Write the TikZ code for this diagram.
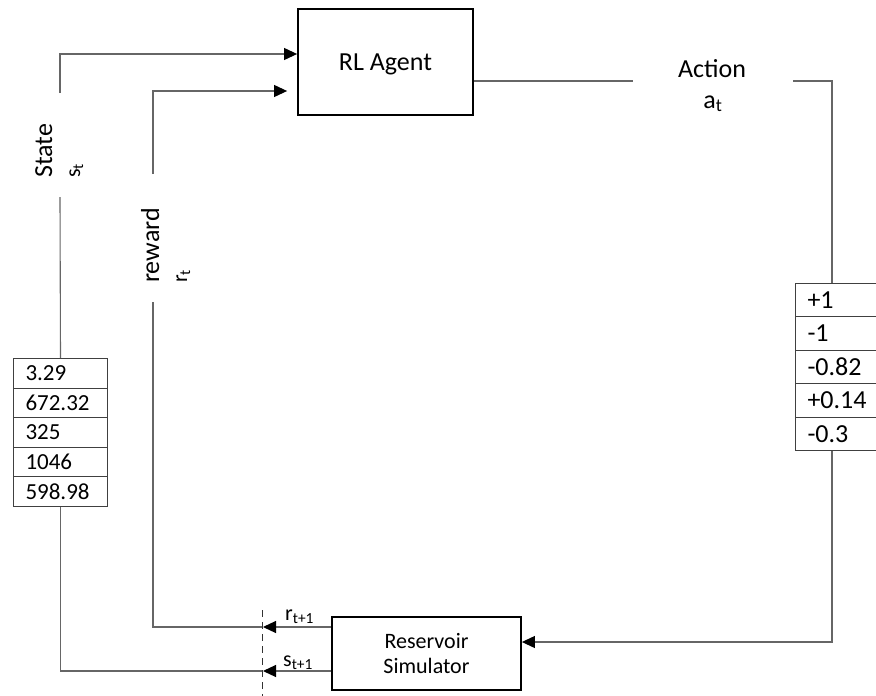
\documentclass[tikz,border=0pt]{standalone}
\usepackage{fontspec}
\setmainfont{Carlito}
\usetikzlibrary{arrows.meta,positioning}

\tikzset{
  blockbox/.style={draw=black,line width=1.8pt,inner sep=0pt},
  celltab/.style={draw=black!75,line width=1pt,anchor=north west,inner xsep=12pt,inner ysep=0pt,text width=70pt,align=left},
  wire/.style={draw=black!60,line width=1.1pt},
  tip/.style={-{Triangle[length=13pt,width=12pt,color=black]}},
  biglbl/.style={inner sep=0pt,font=\fontsize{26}{31}\selectfont},
  sublbl/.style={inner sep=0pt,font=\fontsize{22}{26}\selectfont},
}

\begin{document}
\begin{tikzpicture}[x=1pt,y=-1pt]
  \useasboundingbox (0,0) rectangle (876,696);

  \node[blockbox,minimum width=175pt,minimum height=106pt,text depth=0pt,font=\fontsize{26}{31}\selectfont] (agent) at (385.5,62) {RL Agent};
  \node[blockbox,minimum width=189pt,minimum height=73pt,align=center,font=\fontsize{22}{25}\selectfont] (res) at (426.5,653.5) {Reservoir\\Simulator};

  \foreach \val [count=\i] in {3.29,672.32,325,1046,598.98}
    \node[celltab,minimum height=29.6pt,font=\fontsize{23}{27}\selectfont] (st\i) at (13,{358+(\i-1)*29.6}) {\val};
  \foreach \val [count=\i] in {+1,-1,-0.82,+0.14,-0.3}
    \node[celltab,minimum height=33.4pt,font=\fontsize{26}{30}\selectfont] (act\i) at (795,{283+(\i-1)*33.4}) {\val};

  \node[biglbl,rotate=90,anchor=base west] (statelbl) at (52,178) {State};
  \node[sublbl,rotate=90,anchor=base west] (statesub) at (80,178) {s\textsubscript{t}};
  \node[biglbl,rotate=90,anchor=base west] (rewlbl) at (159,283) {reward};
  \node[sublbl,rotate=90,anchor=base west] (rewsub) at (187,283) {r\textsubscript{t}};
  \node[biglbl,anchor=base] (actlbl) at (712,77) {Action};
  \node[biglbl,anchor=base] (actsub) at (713,108) {a\textsubscript{t}};
  \node[sublbl,anchor=base west] (rnext) at (285,620) {r\textsubscript{t+1}};
  \node[sublbl,anchor=base west] (snext) at (283,666) {s\textsubscript{t+1}};

  \coordinate (stateup) at (60,93);
  \coordinate (statelow) at (60,197);
  \coordinate (rewup) at (153,174);
  \coordinate (rewlow) at (153,302);
  \coordinate (rjoin) at (263,627);
  \coordinate (sjoin) at (263,671);
  \coordinate (actgapL) at (633,81);
  \coordinate (actgapR) at (793,81);

  \draw[wire,tip] (stateup) |- ([yshift=8pt]agent.west);
  \draw[wire] (st1.north) -- (statelow);
  \draw[wire,tip] (rewup) |- ([xshift=-10pt,yshift=-29pt]agent.west);
  \draw[wire] (rjoin) -| (rewlow);
  \draw[wire,tip] ([yshift=26.5pt]res.west) -- (rjoin);
  \draw[wire,tip] ([yshift=-17.5pt]res.west) -- (sjoin);
  \draw[wire] (sjoin) -| (st5.south);
  \draw[wire] ([yshift=-19pt]agent.east) -- (actgapL);
  \draw[wire] (actgapR) -| ([xshift=37pt]act1.north west);
  \draw[wire,tip] ([xshift=37pt]act5.south west) |- ([yshift=11.5pt]res.east);

  \draw[black!80,line width=1pt,dash pattern=on 7pt off 5pt] (262,610) -- (262,696);
\end{tikzpicture}
\end{document}
